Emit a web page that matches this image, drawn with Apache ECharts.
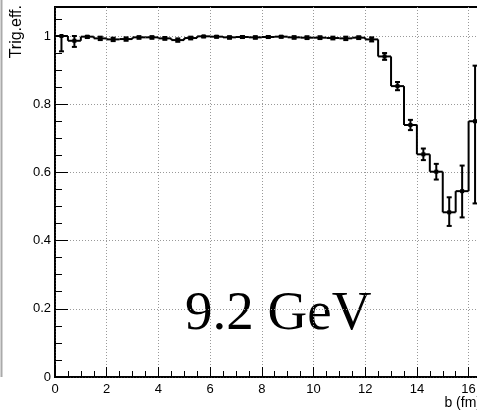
<!DOCTYPE html>
<html>
<head>
<meta charset="utf-8">
<script src="https://cdn.jsdelivr.net/npm/echarts@6/dist/echarts.min.js"></script>
<style>
  html, body { margin: 0; padding: 0; overflow: hidden; background: #fff; }
  #chart { width: 600px; height: 411px; }
</style>
</head>
<body>
<div id="chart"></div>
<script>
// Trigger efficiency vs impact parameter, 0.5 fm bins
const binWidth = 0.5;
const binLow = [0, 0.5, 1, 1.5, 2, 2.5, 3, 3.5, 4, 4.5, 5, 5.5, 6, 6.5, 7, 7.5,
                8, 8.5, 9, 9.5, 10, 10.5, 11, 11.5, 12, 12.5, 13, 13.5, 14, 14.5, 15, 15.5, 16];
const effVals = [1.000, 0.986, 0.998, 0.993, 0.990, 0.991, 0.996, 0.996, 0.993, 0.988, 0.994, 0.999,
                 0.998, 0.996, 0.997, 0.996, 0.997, 0.998, 0.996, 0.995, 0.995, 0.994, 0.993, 0.995,
                 0.990, 0.940, 0.853, 0.739, 0.653, 0.602, 0.483, 0.545, 0.750];
const errDown = [0.045, 0.018, 0.004, 0.005, 0.005, 0.005, 0.004, 0.004, 0.004, 0.005, 0.004, 0.003,
                 0.003, 0.004, 0.003, 0.004, 0.003, 0.003, 0.004, 0.004, 0.004, 0.004, 0.005, 0.004,
                 0.006, 0.010, 0.012, 0.015, 0.017, 0.023, 0.040, 0.077, 0.241];
const errUp   = [0.000, 0.014, 0.002, 0.005, 0.005, 0.005, 0.003, 0.003, 0.004, 0.005, 0.004, 0.001,
                 0.002, 0.003, 0.003, 0.003, 0.003, 0.002, 0.003, 0.004, 0.004, 0.004, 0.005, 0.004,
                 0.006, 0.010, 0.012, 0.015, 0.017, 0.023, 0.044, 0.075, 0.163];

const yMajor = [0, 0.2, 0.4, 0.6, 0.8, 1];
const yMinor = [0.05, 0.1, 0.15, 0.25, 0.3, 0.35, 0.45, 0.5, 0.55, 0.65, 0.7, 0.75,
                0.85, 0.9, 0.95, 1.05];

const xTitle = 'b (fm)';
const yTitle = 'Trig.eff.';
const energyLabel = '9.2 GeV';

const labelFont = 'Liberation Sans';

// [low edge, high edge, value, down error, up error, previous bin value]
const histData = binLow.map((lo, i) => [
  lo, lo + binWidth, effVals[i], errDown[i], errUp[i], i > 0 ? effVals[i - 1] : NaN
]);

function renderBin(params, api) {
  const x0 = api.value(0), x1 = api.value(1), v = api.value(2);
  const dn = api.value(3), up = api.value(4), prev = api.value(5);
  const xc = (x0 + x1) / 2;
  const a = api.coord([x0, v]);
  const b = api.coord([x1, v]);
  const line = { stroke: '#000', lineWidth: 2 };
  const kids = [{ type: 'line', shape: { x1: a[0], y1: a[1], x2: b[0], y2: b[1] }, style: line }];
  if (!isNaN(prev)) {
    const p = api.coord([x0, prev]);
    kids.push({ type: 'line', shape: { x1: a[0], y1: p[1], x2: a[0], y2: a[1] }, style: line });
  }
  const c = api.coord([xc, v]);
  const top = api.coord([xc, v + up]);
  const bot = api.coord([xc, v - dn]);
  kids.push({ type: 'line', shape: { x1: c[0], y1: top[1], x2: c[0], y2: bot[1] }, style: line });
  kids.push({ type: 'line', shape: { x1: c[0] - 2.5, y1: top[1], x2: c[0] + 2.5, y2: top[1] }, style: line });
  kids.push({ type: 'line', shape: { x1: c[0] - 2.5, y1: bot[1], x2: c[0] + 2.5, y2: bot[1] }, style: line });
  kids.push({ type: 'rect', shape: { x: c[0] - 2, y: c[1] - 2, width: 4, height: 4 }, style: { fill: '#000' } });
  return { type: 'group', children: kids };
}

const chart = echarts.init(document.getElementById('chart'), null, { renderer: 'canvas' });

chart.setOption({
  animation: false,
  backgroundColor: '#fff',
  grid: {
    left: 55, top: 7, width: 517, height: 370,
    show: true, borderColor: '#000', borderWidth: 2, backgroundColor: 'transparent'
  },
  xAxis: [{
    type: 'value', min: 0, max: 20, interval: 2,
    axisLine: { lineStyle: { color: '#000', width: 1.5 } },
    axisTick: { inside: true, length: 10, lineStyle: { color: '#000', width: 1 } },
    minorTick: { show: true, splitNumber: 4, length: 6, lineStyle: { color: '#000', width: 1 } },
    axisLabel: { fontSize: 13, color: '#000', margin: 6, fontFamily: labelFont },
    splitLine: { show: true, lineStyle: { color: '#999', width: 1, type: [1, 2] } }
  }],
  yAxis: [{
    type: 'value', min: 0, max: 1.085, interval: 0.2,
    axisLine: { show: true, lineStyle: { color: '#000', width: 1.5 } },
    axisTick: { inside: true, length: 13, customValues: yMajor, lineStyle: { color: '#000', width: 1 } },
    axisLabel: { customValues: yMajor, fontSize: 13, color: '#000', margin: 4, fontFamily: labelFont },
    splitLine: { show: true, lineStyle: { color: '#999', width: 1, type: [1, 2] } }
  }, {
    type: 'value', min: 0, max: 1.085, position: 'left',
    axisLine: { show: false },
    axisTick: { show: true, inside: true, length: 7, customValues: yMinor, lineStyle: { color: '#000', width: 1 } },
    axisLabel: { show: false },
    splitLine: { show: false }
  }],
  series: [{
    type: 'custom',
    xAxisIndex: 0,
    yAxisIndex: 0,
    renderItem: renderBin,
    encode: { x: [0, 1], y: 2 },
    data: histData,
    z: 10
  }],
  graphic: [
    { type: 'line', shape: { x1: 1.5, y1: 0, x2: 1.5, y2: 377 }, style: { stroke: '#aaa', lineWidth: 2 } },
    { type: 'text', x: 17, y: 5, rotation: Math.PI / 2,
      style: { text: yTitle, font: '16px "Liberation Sans"', fill: '#000', align: 'right', verticalAlign: 'middle' } },
    { type: 'text', x: 481, y: 403,
      style: { text: xTitle, font: '14px "Liberation Sans"', fill: '#000', align: 'right', verticalAlign: 'middle' } },
    { type: 'text', x: 185, y: 315,
      style: { text: energyLabel, font: '55px "Liberation Serif"', fill: '#000', align: 'left', verticalAlign: 'middle' } }
  ]
});
</script>
</body>
</html>
